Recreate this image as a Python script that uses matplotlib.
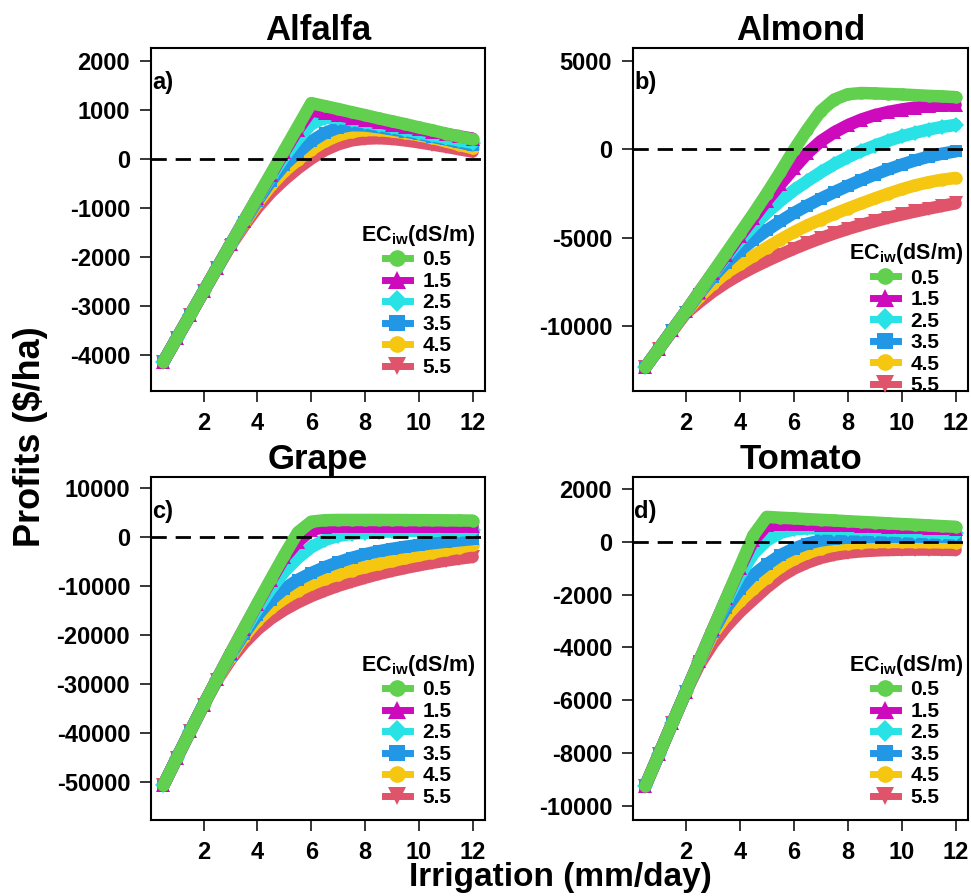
import matplotlib
matplotlib.use('Agg')
import matplotlib.pyplot as plt
from matplotlib.lines import Line2D

plt.rcParams['font.family'] = ['Liberation Sans', 'DejaVu Sans']
plt.rcParams['font.weight'] = 'bold'
plt.rcParams['mathtext.fontset'] = 'custom'
plt.rcParams['mathtext.rm'] = 'Liberation Sans:bold'
plt.rcParams['mathtext.bf'] = 'Liberation Sans:bold'
plt.rcParams['mathtext.it'] = 'Liberation Sans:bold'

# ---------------- data ----------------
irrigation = [0.5, 1.0, 1.5, 2.0, 2.5, 3.0, 3.5, 4.0, 4.5, 5.0, 5.5, 6.0,
              6.5, 7.0, 7.5, 8.0, 8.5, 9.0, 9.5, 10.0, 10.5, 11.0, 11.5, 12.0]
ec_labels = ['0.5', '1.5', '2.5', '3.5', '4.5', '5.5']

alfalfa_05 = [-4140, -3660, -3180, -2700, -2220, -1740, -1260, -780, -300, 180, 660, 1140,
              1080, 1020, 955, 895, 830, 770, 710, 645, 585, 520, 460, 400]
alfalfa_15 = [-4140, -3660, -3180, -2700, -2220, -1740, -1260, -790, -320, 150, 600, 990,
              942, 894, 846, 798, 750, 702, 654, 606, 558, 510, 462, 414]
alfalfa_25 = [-4140, -3660, -3180, -2700, -2220, -1740, -1270, -810, -360, 50, 410, 710,
              840, 840, 800, 750, 700, 650, 595, 540, 485, 430, 380, 330]
alfalfa_35 = [-4140, -3660, -3180, -2700, -2220, -1745, -1290, -850, -450, -120, 130, 360,
              530, 640, 690, 685, 650, 605, 560, 510, 455, 400, 340, 280]
alfalfa_45 = [-4140, -3660, -3180, -2700, -2220, -1750, -1310, -900, -540, -250, -20, 190,
              360, 480, 555, 590, 590, 565, 530, 485, 430, 360, 290, 220]
alfalfa_55 = [-4140, -3660, -3180, -2700, -2230, -1770, -1360, -990, -680, -420, -190, 10,
              180, 300, 380, 415, 425, 410, 380, 340, 295, 250, 200, 150]

almond_05 = [-12300, -11250, -10200, -9150, -8050, -6950, -5850, -4750, -3650, -2500, -1300, -50,
             1100, 2150, 2800, 3100, 3170, 3150, 3120, 3090, 3050, 3010, 2980, 2940]
almond_15 = [-12300, -11250, -10200, -9150, -8050, -6980, -5950, -4900, -3900, -2900, -1980, -1080,
             -230, 450, 950, 1350, 1670, 1920, 2100, 2240, 2350, 2420, 2470, 2500]
almond_25 = [-12300, -11250, -10200, -9160, -8100, -7050, -6050, -5150, -4330, -3580, -2920, -2320,
             -1800, -1300, -850, -450, -100, 200, 480, 720, 930, 1110, 1260, 1370]
almond_35 = [-12300, -11250, -10200, -9170, -8150, -7200, -6400, -5720, -5130, -4580, -4070, -3600,
             -3180, -2790, -2420, -2070, -1740, -1430, -1140, -870, -630, -420, -250, -120]
almond_45 = [-12300, -11250, -10220, -9200, -8330, -7600, -6960, -6500, -6020, -5550, -5100, -4680,
             -4300, -3970, -3650, -3350, -3060, -2780, -2510, -2260, -2040, -1860, -1720, -1620]
almond_55 = [-12300, -11260, -10250, -9250, -8620, -8030, -7520, -7070, -6670, -6300, -5950, -5620,
             -5310, -5020, -4750, -4500, -4270, -4060, -3860, -3680, -3510, -3350, -3200, -3050]

grape_05 = [-50700, -45100, -39600, -34200, -28900, -23700, -18600, -13500, -8500, -3600, 1000, 3200,
            3500, 3550, 3550, 3550, 3550, 3540, 3530, 3510, 3490, 3470, 3450, 3420]
grape_15 = [-50700, -45100, -39600, -34200, -28900, -23700, -18650, -13650, -8800, -4100, -900, 1500,
            2100, 2220, 2270, 2300, 2310, 2320, 2320, 2320, 2320, 2320, 2310, 2300]
grape_25 = [-50700, -45100, -39600, -34200, -28950, -23900, -19100, -14600, -10500, -7000, -4200, -2000,
            -550, 300, 700, 950, 1100, 1200, 1280, 1340, 1380, 1410, 1430, 1450]
grape_35 = [-50700, -45100, -39600, -34200, -29000, -24100, -19700, -15900, -12800, -10500, -8700, -7300,
            -6100, -5100, -4200, -3450, -2850, -2350, -1920, -1550, -1200, -900, -620, -350]
grape_45 = [-50700, -45100, -39600, -34200, -29100, -24400, -20300, -17000, -14500, -12500, -10900, -9600,
            -8500, -7600, -6800, -6100, -5450, -4850, -4250, -3700, -3150, -2600, -2080, -1570]
grape_55 = [-50700, -45100, -39600, -34200, -29200, -25000, -21600, -18800, -16600, -14800, -13300, -12000,
            -10900, -9900, -9050, -8250, -7500, -6850, -6250, -5700, -5200, -4750, -4350, -4000]

tomato_05 = [-9250, -8060, -6870, -5690, -4500, -3310, -2130, -940, 250, 955, 925, 900,
             870, 845, 820, 790, 765, 740, 710, 685, 660, 630, 605, 580]
tomato_15 = [-9250, -8060, -6870, -5690, -4500, -3310, -2140, -990, 60, 640, 700, 690,
             680, 665, 650, 635, 620, 605, 590, 575, 560, 545, 530, 515]
tomato_25 = [-9250, -8060, -6870, -5690, -4510, -3340, -2230, -1250, -450, 60, 350, 480,
             520, 520, 510, 495, 480, 465, 445, 425, 400, 380, 355, 330]
tomato_35 = [-9250, -8060, -6870, -5690, -4520, -3400, -2500, -1800, -1250, -850, -500, -250,
             -60, 60, 130, 170, 190, 200, 205, 205, 205, 200, 200, 195]
tomato_45 = [-9250, -8060, -6870, -5690, -4540, -3500, -2800, -2250, -1780, -1350, -950, -650,
             -420, -250, -130, -60, -20, 0, 5, 5, 0, -5, -10, -20]
tomato_55 = [-9250, -8060, -6870, -5690, -4650, -3850, -3200, -2650, -2180, -1720, -1320, -1010,
             -780, -600, -480, -400, -350, -320, -300, -290, -285, -285, -290, -300]

crops = ['Alfalfa', 'Almond', 'Grape', 'Tomato']
tags = ['a)', 'b)', 'c)', 'd)']
yticks_alfalfa = [2000, 1000, 0, -1000, -2000, -3000, -4000]
yticks_almond = [5000, 0, -5000, -10000]
yticks_grape = [10000, 0, -10000, -20000, -30000, -40000, -50000]
yticks_tomato = [2000, 0, -2000, -4000, -6000, -8000, -10000]
xticks = [2, 4, 6, 8, 10, 12]

# ---------------- style ----------------
colors = ['#61D04F', '#CD0BBC', '#28E2E5', '#2297E6', '#F5C710', '#DF536B']
markers = ['o', '^', 'D', 's', 'o', 'v']
msizes = [9, 9.5, 8, 8.5, 9, 9.5]

W, H = 971, 896
fig = plt.figure(figsize=(W / 100, H / 100), dpi=100)


def px_axes(l, t, r, b):
    return fig.add_axes([l / W, 1 - b / H, (r - l) / W, (b - t) / H])


panels = [
    (px_axes(151, 48, 485, 391), [alfalfa_05, alfalfa_15, alfalfa_25, alfalfa_35, alfalfa_45, alfalfa_55],
     (-4735, 2265), yticks_alfalfa, (0.80, 0.49)),
    (px_axes(633, 48, 968, 391), [almond_05, almond_15, almond_25, almond_35, almond_45, almond_55],
     (-13640, 5710), yticks_almond, (0.815, 0.437)),
    (px_axes(151, 477, 485, 820), [grape_05, grape_15, grape_25, grape_35, grape_45, grape_55],
     (-57770, 12330), yticks_grape, (0.80, 0.487)),
    (px_axes(633, 477, 968, 820), [tomato_05, tomato_15, tomato_25, tomato_35, tomato_45, tomato_55],
     (-10550, 2470), yticks_tomato, (0.815, 0.487)),
]

for i, (ax, series, ylim, yt, leg_anchor) in enumerate(panels):
    # draw highest salinity first so 0.5 dS/m is on top
    for k in reversed(range(len(series))):
        ax.plot(irrigation, series[k], color=colors[k], lw=9, marker=markers[k],
                markersize=msizes[k], markeredgewidth=0, solid_capstyle='round',
                solid_joinstyle='round', zorder=2 + (6 - k))
    ax.axhline(0, color='black', lw=2.0, dashes=(5.5, 3.2), zorder=20)
    ax.set_xlim(0.04, 12.46)
    ax.set_ylim(*ylim)
    ax.set_xticks(xticks)
    ax.set_yticks(yt)
    ax.set_xticklabels([str(v) for v in xticks])
    ax.set_yticklabels([str(v) for v in yt])
    ax.tick_params(direction='out', length=8, width=1.1, labelsize=17, pad=7)
    for sp in ax.spines.values():
        sp.set_linewidth(1.5)
    ax.set_title(crops[i], fontsize=25, fontweight='bold', pad=6)
    ax.text(0.004, 0.90, tags[i], transform=ax.transAxes, ha='left', va='center',
            fontsize=17, fontweight='bold', zorder=30)
    handles = [Line2D([0], [0], color=colors[k], lw=5, marker=markers[k],
                      markersize=msizes[k] + 3, markeredgewidth=0) for k in range(6)]
    ax.legend(handles, ec_labels, title='EC$_{\\mathbf{iw}}$(dS/m)', loc='upper center',
              bbox_to_anchor=leg_anchor, frameon=False, fontsize=15,
              title_fontproperties={'weight': 'bold', 'size': 15.5},
              handlelength=1.2, handletextpad=0.6, labelspacing=0.12,
              borderpad=0, borderaxespad=0)

fig.text(30 / W, 1 - 437 / H, 'Profits (\\$/ha)', rotation=90, ha='center', va='center',
         fontsize=26, fontweight='bold')
fig.text(560 / W, 1 - 877 / H, 'Irrigation (mm/day)', ha='center', va='center',
         fontsize=24, fontweight='bold')

fig.savefig('out.png', dpi=100)
